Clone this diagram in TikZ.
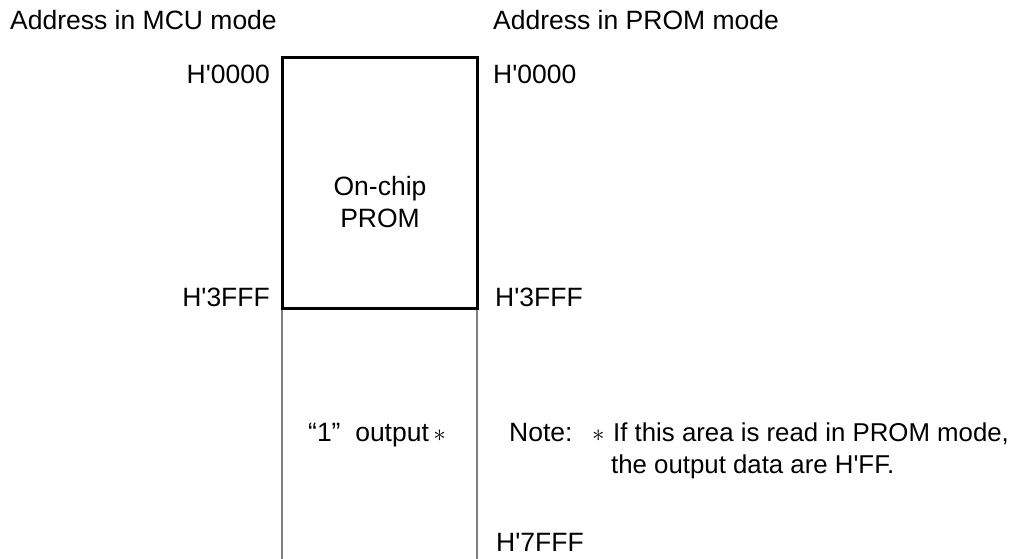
\documentclass[tikz,border=0pt]{standalone}
\usepackage{fontspec}
\setmainfont{Liberation Sans}
\begin{document}
\begin{tikzpicture}[x=1pt,y=-1pt,
  lbl/.style={inner sep=0pt,font=\fontsize{26.5}{32}\selectfont},
  notelbl/.style={inner sep=0pt,font=\fontsize{25.8}{31}\selectfont},
  blk/.style={draw=black,line width=3pt},
  gry/.style={draw=black!50,line width=2.4pt}]
\useasboundingbox (0,0) rectangle (1015,558);
% boxes
\coordinate (tl) at (282,57);
\coordinate (tr) at (477,57);
\coordinate (ml) at (282,308);
\coordinate (mr) at (477,308);
\coordinate (bl) at (282,560);
\coordinate (br) at (477,560);
\draw[gry] (ml) -- (bl);
\draw[gry] (mr) -- (br);
\draw[blk] (ml) -- (tl) -- (tr) -- (mr) -- cycle;
% headers
\node[lbl,anchor=base west] (hmcu) at (10,29) {Address in MCU mode};
\node[lbl,anchor=base west] (hprom) at (493,29) {Address in PROM mode};
% addresses
\node[lbl,anchor=base east] (a0l) at (270,83) {H\textquotesingle 0000};
\node[lbl,anchor=base west] (a0r) at (493,83) {H\textquotesingle 0000};
\node[lbl,anchor=base east] (a3l) at (270,306) {H\textquotesingle 3FFF};
\node[lbl,anchor=base west] (a3r) at (495,306) {H\textquotesingle 3FFF};
\node[lbl,anchor=base west] (a7r) at (496,551) {H\textquotesingle 7FFF};
% contents
\node[lbl,anchor=base] (onchip) at (380,195) {On-chip};
\node[lbl,anchor=base] (prom) at (380,227) {PROM};
\node[lbl,anchor=base] (ones) at (377,441) {\textquotedblleft 1\textquotedblright\ \ output\,$\ast$};
% note
\node[lbl,anchor=base west] (note) at (509,441) {Note:};
\node[lbl,anchor=base west] (star) at (592,441) {$\ast$};
\node[notelbl,anchor=base west] (note1) at (613,441) {If this area is read in PROM mode,};
\node[notelbl,anchor=base west] (note2) at (611,473) {the output data are H\textquotesingle FF.};
\end{tikzpicture}
\end{document}
